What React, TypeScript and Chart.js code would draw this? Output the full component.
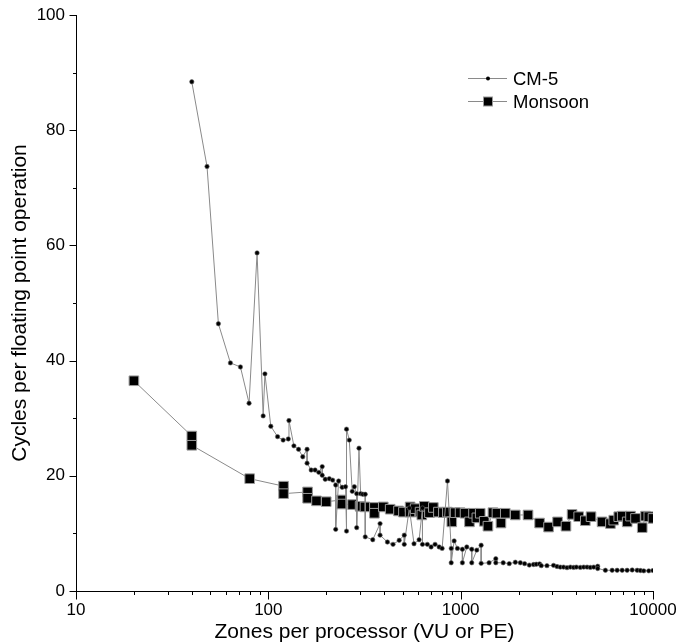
import React, { useEffect, useRef } from 'react';
import { Chart, registerables } from 'chart.js';

Chart.register(...registerables);

// ---- data ----
const seriesNames = ['CM-5', 'Monsoon'];
const xTitle = 'Zones per processor (VU or PE)';
const yTitle = 'Cycles per floating point operation';

const cm5X = [
  40, 48, 55, 63.5, 71.6, 79.4, 87.4, 94, 96, 103, 111.7, 119.4, 127, 128, 135.8, 143.6, 151, 159, 159,
  167, 175, 183, 190.6, 190.6, 197.6, 207.5, 216, 224, 224, 232, 242, 252, 255, 255, 263.6, 273, 280,
  288, 288, 296, 302, 310, 319, 319, 349, 381, 381, 416, 445, 479, 509, 509, 541, 572, 608, 633, 633,
  671, 702, 736, 773, 801, 854, 893, 893, 925, 962, 1021, 1021, 1076, 1142, 1142, 1213, 1278, 1278,
  1405, 1523, 1523, 1664, 1789, 1924, 2043, 2150, 2275, 2393, 2472, 2572, 2625, 2810, 3041, 3170,
  3296, 3428, 3573, 3717, 3869, 3996, 4188, 4362, 4541, 4721, 4918, 5158, 5158, 5656, 6131, 6510,
  6912, 7336, 7794, 8274, 8610, 8954, 9507, 10000,
];
const cm5Y = [
  88.4, 73.7, 46.4, 39.6, 38.9, 32.6, 58.7, 30.4, 37.7, 28.6, 26.8, 26.2, 26.4, 29.6, 25.2, 24.6, 23.3, 24.6, 22.2,
  21.0, 21.0, 20.6, 21.6, 20.1, 19.4, 19.5, 19.25, 18.4, 10.7, 19.1, 18.0, 18.1, 10.4, 28.1, 26.2, 17.3, 18.1,
  16.9, 11.0, 24.8, 16.9, 16.8, 16.8, 9.4, 8.9, 11.7, 9.7, 8.5, 8.1, 8.8, 9.7, 8.1, 14.4, 8.2, 8.9, 14.4, 8.1,
  8.1, 7.65, 8.1, 7.65, 7.4, 19.1, 7.4, 4.9, 8.7, 7.4, 7.25, 4.9, 7.65, 7.25, 4.9, 7.1, 7.95, 4.8,
  4.9, 5.6, 4.9, 4.9, 4.75, 5.0, 4.9, 4.75, 4.5, 4.6, 4.65, 4.7, 4.4, 4.4, 4.45, 4.25,
  4.15, 4.15, 4.05, 4.15, 4.1, 4.15, 4.1, 4.15, 4.15, 4.1, 4.15, 4.3, 3.9, 3.6, 3.6, 3.6,
  3.6, 3.6, 3.65, 3.6, 3.55, 3.5, 3.5, 3.55,
];

const monsoonX = [
  20, 40, 40, 80, 120, 120, 160, 160, 178, 200, 240, 240, 274, 300, 318, 356, 356, 396, 430, 475, 504,
  546, 546, 580, 615, 628, 647, 688, 721, 766, 813, 853, 899, 936, 993, 1054, 1111, 1166, 1214, 1264,
  1326, 1386, 1472, 1544, 1620, 1706, 1923, 2240, 2572, 2864, 3190, 3529, 3795, 4108, 4447, 4762,
  5434, 6006, 6250, 6635, 6918, 7343, 7640, 8110, 8790, 9145, 9510, 10000,
];
const monsoonY = [
  36.5, 26.9, 25.3, 19.5, 18.2, 16.9, 17.2, 16.1, 15.65, 15.5, 15.8, 15.1, 15.0, 14.7, 14.6, 14.5, 13.5, 14.6, 14.2, 13.9, 13.7,
  14.6, 13.7, 14.3, 13.7, 13.2, 14.7, 13.6, 14.5, 13.7, 13.6, 13.7, 12.0, 13.6, 13.6, 13.5, 12.0, 13.5, 12.7, 13.5,
  12.1, 11.25, 13.6, 13.5, 11.8, 13.5, 13.2, 13.2, 11.8, 11.1, 12.0, 11.25, 13.3, 12.9, 12.2, 12.9,
  12.0, 11.7, 12.3, 12.9, 13.0, 12.0, 13.0, 12.6, 11.0, 13.0, 12.9, 12.6,
];

const xMajorTicks = [10, 100, 1000, 10000];
const xMinorTicks = [
  20, 30, 40, 50, 60, 70, 80, 90,
  200, 300, 400, 500, 600, 700, 800, 900,
  2000, 3000, 4000, 5000, 6000, 7000, 8000, 9000,
];
const yMajorTicks = [0, 20, 40, 60, 80, 100];
const yMinorTicks = [10, 30, 50, 70, 90];

const FONT = '"Liberation Sans", Arial, Helvetica, sans-serif';

const tickPlugin = {
  id: 'customTicks',
  afterDraw(chart: any) {
    const ctx = chart.ctx;
    const xs = chart.scales.x;
    const ys = chart.scales.y;
    const area = chart.chartArea;
    ctx.save();
    ctx.strokeStyle = '#000';
    ctx.lineWidth = 1;
    ctx.beginPath();
    const bottom = Math.round(area.bottom) + 0.5;
    const left = Math.round(area.left) + 0.5;
    xMajorTicks.forEach((v) => {
      const px = Math.round(xs.getPixelForValue(v)) + 0.5;
      ctx.moveTo(px, bottom);
      ctx.lineTo(px, bottom + 8);
    });
    xMinorTicks.forEach((v) => {
      const px = Math.round(xs.getPixelForValue(v)) + 0.5;
      ctx.moveTo(px, bottom);
      ctx.lineTo(px, bottom + 3.5);
    });
    yMajorTicks.forEach((v) => {
      const py = Math.round(ys.getPixelForValue(v)) + 0.5;
      ctx.moveTo(left, py);
      ctx.lineTo(left - 7, py);
    });
    yMinorTicks.forEach((v) => {
      const py = Math.round(ys.getPixelForValue(v)) + 0.5;
      ctx.moveTo(left, py);
      ctx.lineTo(left - 3.5, py);
    });
    ctx.stroke();

    // legend
    const rows = [78.5, 101.5];
    rows.forEach((y, i) => {
      ctx.strokeStyle = '#8a8a8a';
      ctx.lineWidth = 1;
      ctx.beginPath();
      ctx.moveTo(468, y);
      ctx.lineTo(507, y);
      ctx.stroke();
      if (i === 0) {
        ctx.fillStyle = '#000';
        ctx.beginPath();
        ctx.arc(488, y, 2, 0, Math.PI * 2);
        ctx.fill();
      } else {
        ctx.fillStyle = '#000';
        ctx.strokeStyle = '#999';
        ctx.fillRect(483.5, y - 4.5, 9, 9);
        ctx.strokeRect(483.5, y - 4.5, 9, 9);
      }
      ctx.fillStyle = '#000';
      ctx.font = '18.5px ' + FONT;
      ctx.textBaseline = 'middle';
      ctx.textAlign = 'left';
      ctx.fillText(seriesNames[i], 513, y + 1);
    });
    ctx.restore();
  },
};

export default function App() {
  const ref = useRef<HTMLCanvasElement | null>(null);

  useEffect(() => {
    document.body.style.margin = '0';
    if (!ref.current) return;
    const chart = new Chart(ref.current, {
      type: 'line',
      data: {
        datasets: [
          {
            label: seriesNames[0],
            data: cm5X.map((x, i) => ({ x, y: cm5Y[i] })),
            borderColor: '#8a8a8a',
            borderWidth: 1,
            pointStyle: 'circle',
            pointRadius: 2.2,
            pointBackgroundColor: '#000',
            pointBorderColor: '#666',
            pointBorderWidth: 0.6,
            fill: false,
            tension: 0,
          },
          {
            label: seriesNames[1],
            data: monsoonX.map((x, i) => ({ x, y: monsoonY[i] })),
            borderColor: '#8a8a8a',
            borderWidth: 1,
            pointStyle: 'rect',
            pointRadius: 6.8,
            pointBackgroundColor: '#000',
            pointBorderColor: '#9a9a9a',
            pointBorderWidth: 1,
            fill: false,
            tension: 0,
          },
        ],
      },
      options: {
        responsive: false,
        animation: false,
        devicePixelRatio: 1,
        layout: { padding: { top: 15, right: 23, left: 0, bottom: 0 } },
        plugins: {
          legend: { display: false },
          tooltip: { enabled: false },
        },
        scales: {
          x: {
            type: 'logarithmic',
            min: 10,
            max: 10000,
            grid: { display: false, drawTicks: false },
            border: { display: true, color: '#000', width: 1 },
            ticks: {
              autoSkip: false,
              maxRotation: 0,
              padding: 9,
              color: '#000',
              font: { family: FONT, size: 17 },
              callback: (v: any) => String(v),
            },
            afterBuildTicks: (scale: any) => {
              scale.ticks = xMajorTicks.map((v) => ({ value: v }));
            },
            afterFit: (scale: any) => {
              scale.height = 52;
              scale.paddingLeft = 0;
              scale.paddingRight = 0;
            },
            title: {
              display: true,
              text: xTitle,
              color: '#000',
              font: { family: FONT, size: 21, lineHeight: 1 },
              padding: 0,
            },
          },
          y: {
            type: 'linear',
            min: 0,
            max: 100,
            grid: { display: false, drawTicks: false },
            border: { display: true, color: '#000', width: 1 },
            ticks: {
              stepSize: 20,
              padding: 11,
              color: '#000',
              font: { family: FONT, size: 17 },
            },
            afterBuildTicks: (scale: any) => {
              scale.ticks = yMajorTicks.map((v) => ({ value: v }));
            },
            afterFit: (scale: any) => {
              scale.width = 76;
              scale.paddingTop = 0;
              scale.paddingBottom = 0;
            },
            title: {
              display: true,
              text: yTitle,
              color: '#000',
              font: { family: FONT, size: 21, lineHeight: 1 },
              padding: { top: 10, bottom: 0 },
            },
          },
        },
      },
      plugins: [tickPlugin],
    });
    return () => chart.destroy();
  }, []);

  return (
    <div style={{ width: 676, height: 643 }}>
      <canvas ref={ref} width={676} height={643} />
    </div>
  );
}
